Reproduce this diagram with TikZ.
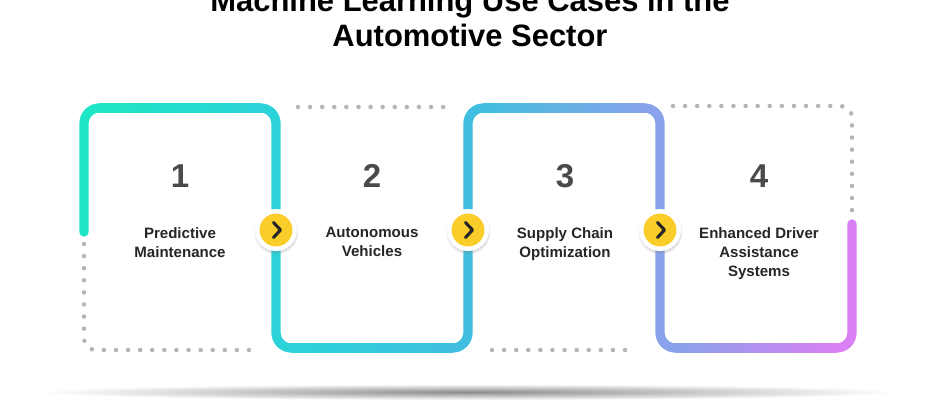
\documentclass[tikz,border=0pt]{standalone}
\usepackage{fontspec}
\setmainfont{Liberation Sans}
\usetikzlibrary{shadows}

\definecolor{trackA}{HTML}{1EE6C4}
\definecolor{trackB}{HTML}{2CD3D9}
\definecolor{trackC}{HTML}{3FBEE0}
\definecolor{trackD}{HTML}{88A3EA}
\definecolor{trackE}{HTML}{DA80F5}
\definecolor{dotgray}{HTML}{B5B5B5}
\definecolor{btnyellow}{HTML}{FBCD2B}
\definecolor{numgray}{HTML}{4A4A4A}
\definecolor{textdark}{HTML}{262626}

\begin{document}
\begin{tikzpicture}[x=0.025cm, y=-0.025cm,
    track/.style={line width=6.6pt, line cap=round, rounded corners=11pt},
    dotline/.style={dotgray, line width=3.2pt, line cap=round, dash pattern=on 0pt off 8.6pt},
    btn/.style={circle, fill=white, minimum size=29.9pt, inner sep=0pt,
      circular drop shadow={shadow xshift=0pt, shadow yshift=-1.2pt, shadow scale=1.08, opacity=0.3},
      path picture={\fill[btnyellow] (path picture bounding box.center) circle (11.7pt);}},
    chev/.style={draw=textdark, line width=2.2pt, line cap=round, line join=round},
    num/.style={inner sep=0pt, text=numgray, font=\fontsize{23.5}{28}\selectfont\bfseries},
    lbl/.style={anchor=north, inner sep=0pt, align=center, text=textdark,
      font=\fontsize{10.7}{13.7}\selectfont\bfseries}
  ]
  \fill[white] (0,0) rectangle (940,400);
  \useasboundingbox (0,0) rectangle (940,400);

  % floor shadow
  \shade[inner color=black!45, outer color=white] (470,392) ellipse [x radius=430, y radius=8];

  % title
  \node[anchor=south, inner sep=0pt, align=center, font=\fontsize{22}{25}\selectfont\bfseries]
    (title) at (470,47) {Machine Learning Use Cases in the\\Automotive Sector};

  % dotted halves of the boxes
  \draw[dotline, rounded corners=8pt] (84,244) -- (84,350) -- (252,350);
  \draw[dotline] (298,107) -- (448,107);
  \draw[dotline] (492,350) -- (637,350);
  \draw[dotline, rounded corners=8pt] (673,106) -- (852,106) -- (852,214);

  % gradient track, one U-turn at a time
  \foreach \xa/\xb/\y/\ya/\yb/\ca/\cb in {84/276/108/232/228/trackA/trackB,
      276/468/348/228/228/trackB/trackC, 468/660/108/228/228/trackC/trackD,
      660/852/348/228/224/trackD/trackE} {
    \draw[track, \ca] (\xa,\ya) -- (\xa,\y) -- ({(\xa+\xb)/2},\y);
    \draw[track, \cb] ({(\xa+\xb)/2},\y) -- (\xb,\y) -- (\xb,\yb);
    \shade[left color=\ca, right color=\cb] (\xa+15.4,\y-4.65) rectangle (\xb-15.4,\y+4.65);
  }

  % arrow buttons
  \foreach \i/\x in {1/276, 2/468, 3/660} {
    \node[btn] (B\i) at (\x,230) {};
    \draw[chev] ([shift={(-2.5,-7.5)}]B\i.center) -- ([shift={(4.5,0)}]B\i.center)
      -- ([shift={(-2.5,7.5)}]B\i.center);
  }

  % numbers and labels
  \foreach \i/\x/\t in {1/180/{Predictive\\Maintenance}, 2/372/{Autonomous\\Vehicles},
      3/565/{Supply Chain\\Optimization}, 4/759/{Enhanced Driver\\Assistance\\Systems}} {
    \node[num] (N\i) at (\x,176) {\i};
    \node[lbl] (L\i) at (\x,227) {\t};
  }
\end{tikzpicture}
\end{document}
